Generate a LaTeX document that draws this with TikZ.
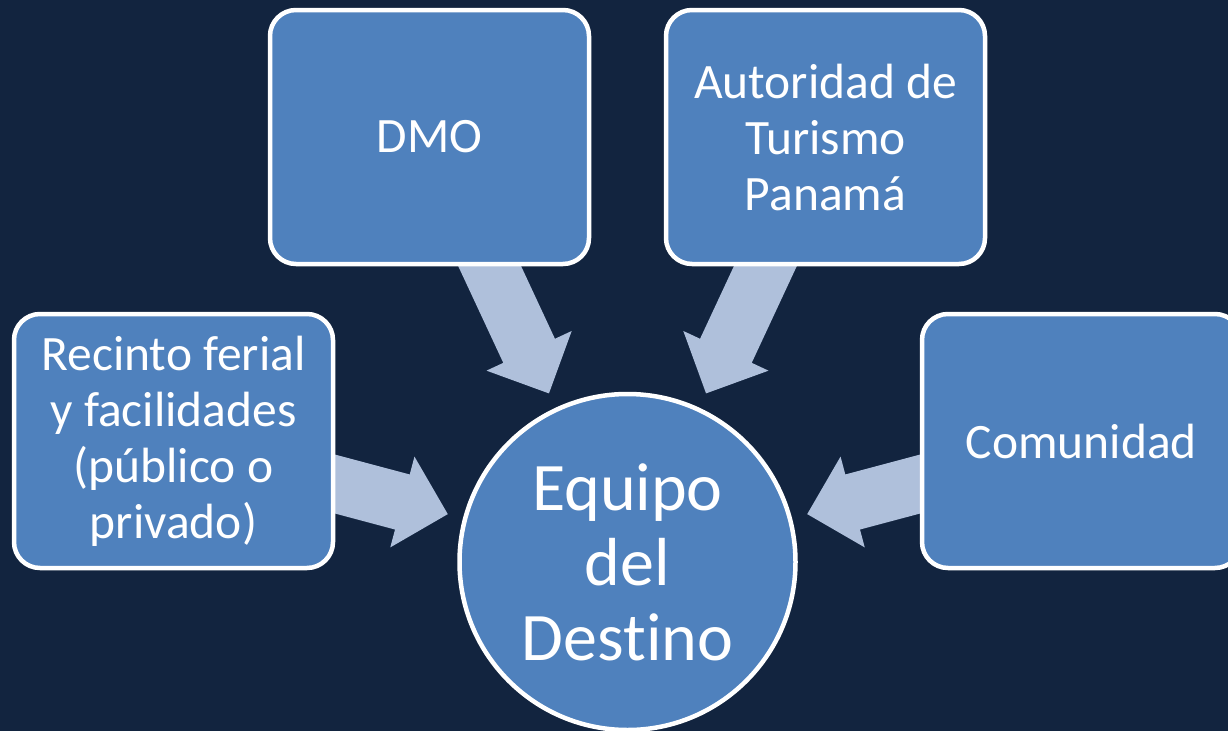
\documentclass[tikz,border=0pt]{standalone}
\usepackage{fontspec}
\setmainfont[Ligatures={NoCommon}]{Carlito}
\usetikzlibrary{calc}
\definecolor{bgcol}{HTML}{12243F}
\definecolor{boxcol}{HTML}{4F81BD}
\definecolor{arrcol}{HTML}{AFC0DB}
\tikzset{
  boxnode/.style={draw=white, fill=boxcol, line width=4.5pt, rounded corners=26pt,
    minimum width=319pt, minimum height=254pt, inner sep=0pt, align=center,
    text=white, font=\fontsize{49.5}{56}\selectfont},
  hubnode/.style={draw=white, fill=boxcol, line width=4.5pt, circle, minimum size=336pt,
    inner sep=0pt, align=center, text=white, font=\fontsize{68}{75}\selectfont},
  blockarrow/.style={fill=arrcol}
}
\newcommand\feedarrow[2]{%
  \coordinate (T#1) at ($(#2.center)!186pt!(#1.center)$);
  \coordinate (B#1) at ($(T#1)!47pt!(#1.center)$);
  \fill[blockarrow] ($(#1.center)!28.5pt!90:(T#1)$) -- ($(B#1)!28.5pt!90:(T#1)$)
    -- ($(B#1)!47pt!90:(T#1)$) -- (T#1) -- ($(B#1)!47pt!-90:(T#1)$)
    -- ($(B#1)!28.5pt!-90:(T#1)$) -- ($(#1.center)!28.5pt!-90:(T#1)$) -- cycle;
}
\begin{document}
\begin{tikzpicture}[x=1pt,y=-1pt]
\useasboundingbox (0,0) rectangle (1228,731);
\fill[bgcol] (0,0) rectangle (1228,731);
\clip (0,0) rectangle (1228,731);
% node positions (invisible placeholders used by the arrows)
\path (627.5,562) node[hubnode, draw=none, fill=none] (hub) {};
\path (173.5,441) node[boxnode, draw=none, fill=none] (rec) {};
\path (429.5,137) node[boxnode, draw=none, fill=none] (dmo) {};
\path (825.5,137) node[boxnode, draw=none, fill=none] (aut) {};
\path (1081.5,441) node[boxnode, draw=none, fill=none] (com) {};
% arrows
\feedarrow{rec}{hub}
\feedarrow{dmo}{hub}
\feedarrow{aut}{hub}
\feedarrow{com}{hub}
% visible nodes
\node[boxnode] (recbox) at (rec) {Recinto ferial\\y facilidades\\(público o\\privado)};
\node[boxnode] (dmobox) at (dmo) {DMO};
\node[boxnode] (autbox) at (aut) {Autoridad de\\Turismo\\Panamá};
\node[boxnode] (combox) at (com) {Comunidad};
\node[hubnode] (hubc) at (hub) {Equipo\\del\\Destino};
\end{tikzpicture}
\end{document}
